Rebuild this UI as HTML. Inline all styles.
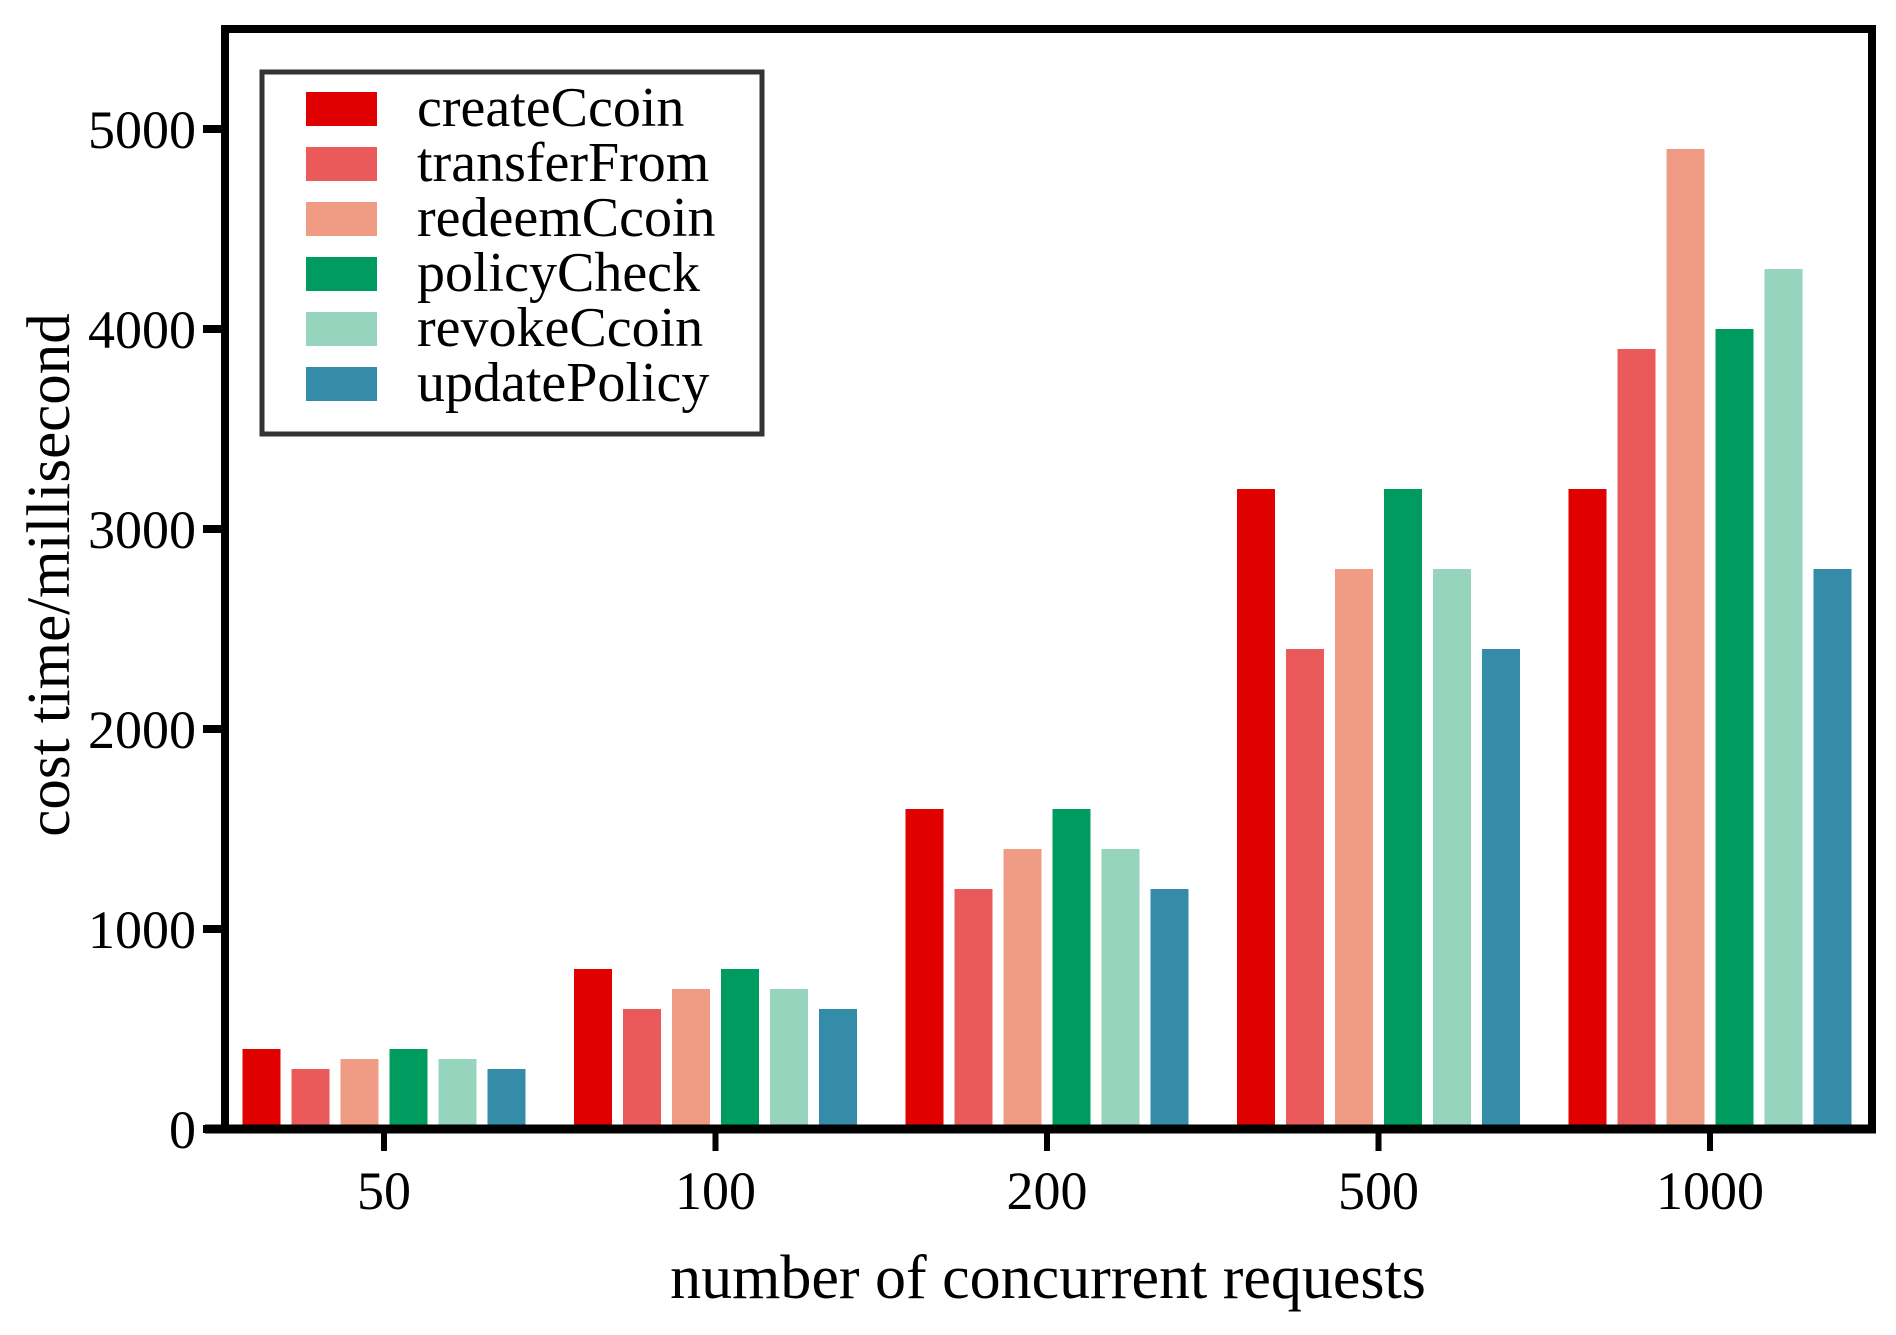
<!DOCTYPE html>
<html><head><meta charset="utf-8"><style>
html,body{margin:0;padding:0;background:#fff;}
svg{display:block;font-family:"Liberation Serif",serif;}
</style></head><body>
<svg id="chart" width="1896" height="1335" viewBox="0 0 1896 1335" xmlns="http://www.w3.org/2000/svg"></svg>
<script>
const categories = ["50","100","200","500","1000"];
const seriesNames = ["createCcoin","transferFrom","redeemCcoin","policyCheck","revokeCcoin","updatePolicy"];
const seriesColors = ["#e00000","#ea5a5a","#f09c84","#009b5f","#96d4be","#358ca8"];
const createCcoin = [400,800,1600,3200,3200];
const transferFrom = [300,600,1200,2400,3900];
const redeemCcoin = [350,700,1400,2800,4900];
const policyCheck = [400,800,1600,3200,4000];
const revokeCcoin = [350,700,1400,2800,4300];
const updatePolicy = [300,600,1200,2400,2800];
const yTicks = [0,1000,2000,3000,4000,5000];
const yMax = 5500;

const series = [createCcoin,transferFrom,redeemCcoin,policyCheck,revokeCcoin,updatePolicy];
const NS = "http://www.w3.org/2000/svg";
const svg = document.getElementById('chart');
const y0 = 1129, yTop = 29, xLeft = 225, xRight = 1872;
const x0 = 384, groupPitch = 331.5, barW = 38, barPitch = 49;
function yScale(v){ return y0 - (y0 - yTop) * v / yMax; }
function xCenter(i){ return x0 + i * groupPitch; }
function mk(tag, attrs, parent){ const e = document.createElementNS(NS, tag); for (const k in attrs) e.setAttribute(k, attrs[k]); (parent||svg).appendChild(e); return e; }

const barsG = mk('g', {});


series.forEach((vals, s) => {
  vals.forEach((v, i) => {
    const x = xCenter(i) - (5*barPitch + barW)/2 + s*barPitch;
    const r = mk('rect', {x: x, y: yScale(v), width: barW, height: y0 - 4 - yScale(v), fill: seriesColors[s]}, barsG);
    
    
  });
});

const frame = mk('path', {d: `M${xLeft} ${y0} V${yTop} H${xRight} V${y0}`, fill: 'none', stroke: '#000', 'stroke-width': 8});


const xAxis = mk('line', {x1: 205, y1: y0, x2: 1876, y2: y0, stroke: '#000', 'stroke-width': 9});



yTicks.forEach(t => {
  const y = yScale(t);
  const tl = mk('line', {x1: 203, y1: y, x2: xLeft, y2: y, stroke: '#000', 'stroke-width': 8});
  
  
  const tx = mk('text', {x: 196, y: y + 19, 'text-anchor': 'end', 'font-size': 54, fill: '#000'});
  tx.textContent = t;
  
  
});

categories.forEach((c, i) => {
  const x = xCenter(i);
  const tl = mk('line', {x1: x, y1: y0, x2: x, y2: 1151, stroke: '#000', 'stroke-width': 6});
  
  
  const tx = mk('text', {x: x, y: 1209, 'text-anchor': 'middle', 'font-size': 54, fill: '#000'});
  tx.textContent = c;
  
  
});

const xt = mk('text', {x: 1048, y: 1298, 'text-anchor': 'middle', 'font-size': 62, fill: '#000'});
xt.textContent = 'number of concurrent requests';


const yt = mk('text', {x: 0, y: 0, 'text-anchor': 'middle', 'font-size': 61, fill: '#000', transform: 'translate(69,575) rotate(-90)'});
yt.textContent = 'cost time/millisecond';



const lg = mk('g', {});


const lb = mk('rect', {x: 262, y: 72, width: 500, height: 362, fill: '#fff', stroke: '#333', 'stroke-width': 5}, lg);


seriesNames.forEach((n, s) => {
  const ry = 92 + s * 55;
  const sw = mk('rect', {x: 306, y: ry, width: 71, height: 34, fill: seriesColors[s]}, lg);
  
  
  const t = mk('text', {x: 417, y: ry + 34, 'font-size': 56, fill: '#000'}, lg);
  t.textContent = n;
  
  
});
</script>
</body></html>
